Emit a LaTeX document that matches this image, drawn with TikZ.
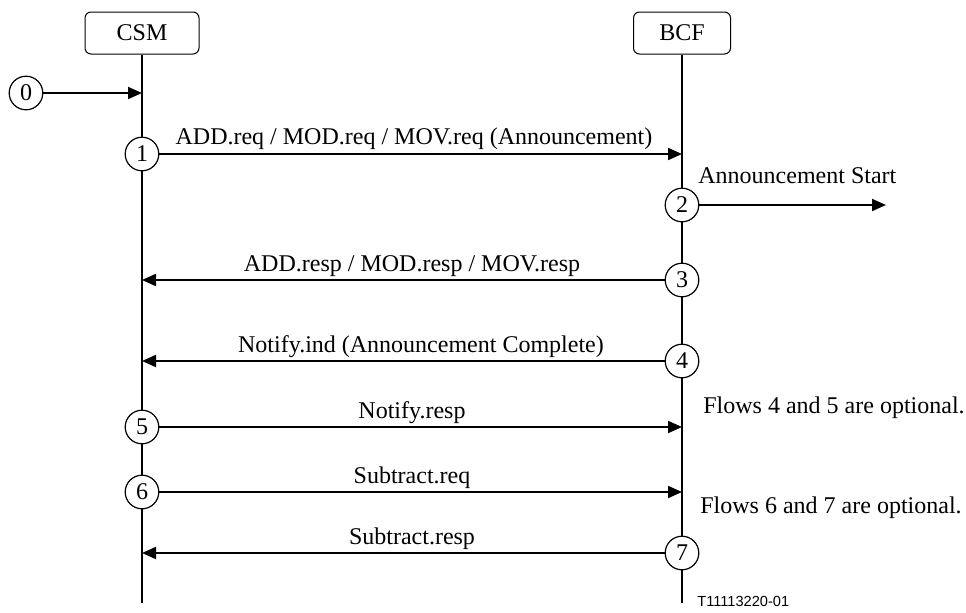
\documentclass[tikz,border=0pt]{standalone}
\usepackage{fontspec}
\setmainfont{Liberation Serif}
\newfontfamily\labelsans{Liberation Sans}
\usetikzlibrary{arrows.meta}
\begin{document}
\begin{tikzpicture}[x=0.5pt,y=-0.5pt,
  every node/.style={font=\fontsize{12}{14}\selectfont},
  entity/.style={draw, rounded corners=3pt, line width=0.5pt, minimum height=21pt, inner sep=0pt},
  num/.style={circle, draw, fill=white, line width=0.6pt, minimum size=16.8pt, inner sep=0pt},
  life/.style={line width=1pt},
  msg/.style={line width=1pt, -{Triangle[length=7pt,width=6pt]}},
  lbl/.style={anchor=base, inner sep=0pt},
  side/.style={anchor=base west, inner sep=0pt}]
\useasboundingbox (0,0) rectangle (966,612);
% entities and lifelines
\node[entity, minimum width=57pt] (csm) at (142,33) {CSM};
\node[entity, minimum width=48.5pt] (bcf) at (682,33) {BCF};
\coordinate (csmEnd) at (142,603);
\coordinate (bcfEnd) at (682,603);
\draw[life] (csm) -- (csmEnd);
\draw[life] (bcf) -- (bcfEnd);
% arrow end points on lifelines
\coordinate (c0) at (142,93);
\coordinate (b1) at (682,154);
\coordinate (e2) at (886,205);
\coordinate (c3) at (142,280);
\coordinate (c4) at (142,361);
\coordinate (b5) at (682,427);
\coordinate (b6) at (682,492);
\coordinate (c7) at (142,553);
% numbered circles
\node[num] (n0) at (26,93) {0};
\node[num] (n1) at (142,154) {1};
\node[num] (n2) at (682,205) {2};
\node[num] (n3) at (682,280) {3};
\node[num] (n4) at (682,361) {4};
\node[num] (n5) at (142,427) {5};
\node[num] (n6) at (142,492) {6};
\node[num] (n7) at (682,553) {7};
% messages
\draw[msg] (n0) -- (c0);
\draw[msg] (n1) -- (b1);
\draw[msg] (n2) -- (e2);
\draw[msg] (n3) -- (c3);
\draw[msg] (n4) -- (c4);
\draw[msg] (n5) -- (b5);
\draw[msg] (n6) -- (b6);
\draw[msg] (n7) -- (c7);
% labels
\node[lbl] (l1) at (414,144) {ADD.req / MOD.req / MOV.req (Announcement)};
\node[side] (l2) at (698,183) {Announcement Start};
\node[lbl] (l3) at (412,271) {ADD.resp / MOD.resp / MOV.resp};
\node[lbl] (l4) at (421,352) {Notify.ind (Announcement Complete)};
\node[lbl] (l5) at (412,418) {Notify.resp};
\node[lbl] (l6) at (412,483) {Subtract.req};
\node[lbl] (l7) at (412,544) {Subtract.resp};
\node[side] (f45) at (703,413) {Flows 4 and 5 are optional.};
\node[side] (f67) at (700,513) {Flows 6 and 7 are optional.};
\node[side, font=\labelsans\fontsize{7.3}{9}\selectfont] (tag) at (697,606) {T11113220-01};
\end{tikzpicture}
\end{document}
